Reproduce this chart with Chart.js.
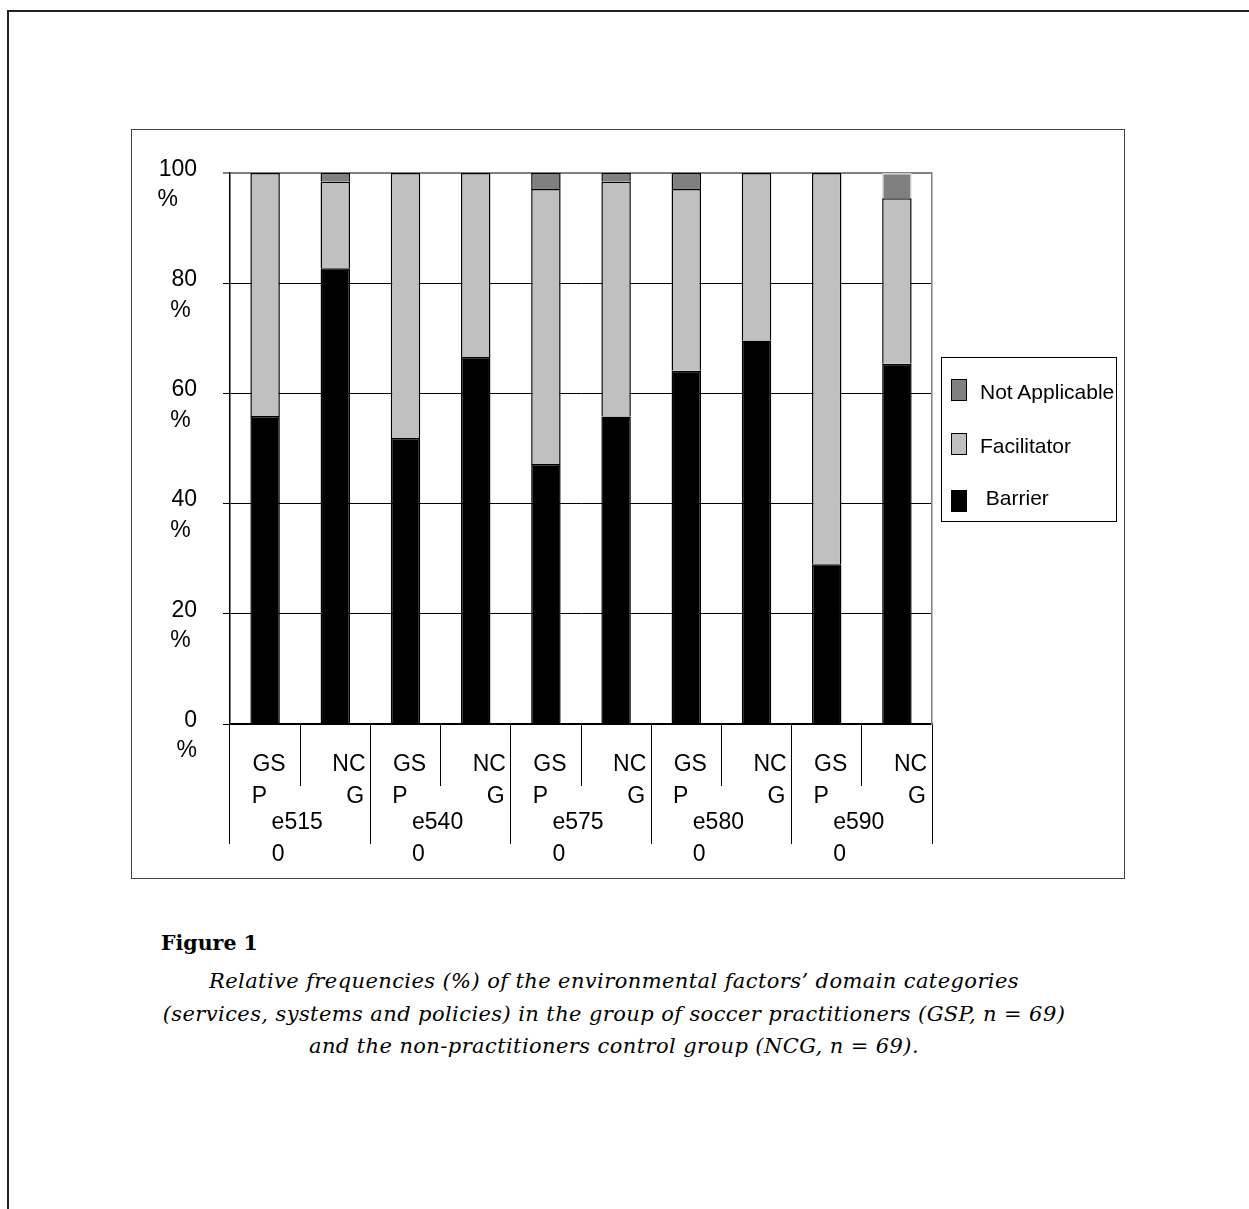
<!DOCTYPE html>
<html>
<head>
<meta charset="utf-8">
<script src="https://cdn.jsdelivr.net/npm/chart.js@4.4.1/dist/chart.umd.min.js"></script>
<style>
html,body{margin:0;padding:0;background:#fff;overflow:hidden;width:1249px;height:1209px;}
#page{position:absolute;left:7px;top:10px;width:1300px;height:1300px;border-left:2px solid #222;border-top:2px solid #222;}
#box{position:absolute;left:131px;top:129px;width:992px;height:748px;border:1px solid #444;}
#wrap{position:absolute;left:132px;top:130px;width:991px;height:747px;}
#legend{position:absolute;left:941px;top:357px;width:174px;height:163px;border:1px solid #000;font-family:'Liberation Sans',Arial,sans-serif;font-size:21px;color:#000;}
.sw{position:absolute;left:9px;width:16px;height:22px;box-sizing:border-box;border:1.5px solid #000;}
.lt{position:absolute;left:38px;white-space:pre;line-height:22px;height:22px;}
#fig{position:absolute;left:161px;top:931px;font-family:'DejaVu Serif',serif;font-weight:bold;font-size:20.5px;line-height:24px;color:#000;}
#cap{position:absolute;left:0;top:965px;width:1228px;text-align:center;font-family:'DejaVu Serif',serif;font-style:italic;font-size:21px;letter-spacing:0.4px;line-height:32.5px;color:#000;}
</style>
</head>
<body>
<div id="page"></div>
<div id="box"></div>
<div id="wrap"><canvas id="c"></canvas></div>
<div id="legend"></div>
<div id="fig">Figure 1</div>
<div id="cap">Relative frequencies (%) of the environmental factors’ domain categories<br>(services, systems and policies) in the group of soccer practitioners (GSP, n = 69)<br>and the non-practitioners control group (NCG, n = 69).</div>
<script>
// ---- data ----
const groups = ['e5150', 'e5400', 'e5750', 'e5800', 'e5900'];
const categories = ['GSP', 'NCG', 'GSP', 'NCG', 'GSP', 'NCG', 'GSP', 'NCG', 'GSP', 'NCG'];
const barrier = [55.9, 82.7, 51.9, 66.6, 47.2, 55.8, 64.1, 69.6, 29.0, 65.4];
const facilitator = [44.1, 15.7, 48.1, 33.4, 49.9, 42.6, 33.0, 30.4, 71.0, 30.0];
const notApplicable = [0, 1.6, 0, 0, 2.9, 1.6, 2.9, 0, 0, 4.6];
const seriesNames = [' Barrier', 'Facilitator', 'Not Applicable'];
const yTickValues = [0, 20, 40, 60, 80, 100];

Chart.defaults.font.family = "'Liberation Sans', Arial, sans-serif";
Chart.defaults.color = '#000';

const naBorder = notApplicable.map((v, i) => i === notApplicable.length - 1 ? '#cfcfcf' : '#000');

function catLabel(name) {
  if (name === 'GSP') return ['GS', 'P   '];
  return ['   NC', '     G'];
}
function groupLabel(code) {
  return [code.slice(0, 4), code.slice(4) + '      '];
}
function yLabel(v) {
  const s = String(v);
  const pad = s.length >= 3 ? '   ' : (s.length === 2 ? ' ' : '');
  return ['', s, '%' + pad];
}

const chart = new Chart(document.getElementById('c'), {
  type: 'bar',
  data: {
    labels: categories,
    datasets: [
      { label: seriesNames[0], data: barrier, backgroundColor: '#000000', borderColor: '#000', borderWidth: 1.5 },
      { label: seriesNames[1], data: facilitator, backgroundColor: '#c0c0c0', borderColor: '#000', borderWidth: 1.5 },
      { label: seriesNames[2], data: notApplicable, backgroundColor: '#808080', borderColor: naBorder, borderWidth: 1.5 }
    ]
  },
  options: {
    responsive: true,
    maintainAspectRatio: false,
    animation: false,
    layout: { padding: { left: 0, top: 43, right: 190, bottom: 0 } },
    plugins: { legend: { display: false }, tooltip: { enabled: false } },
    datasets: { bar: { barPercentage: 0.42, categoryPercentage: 1 } },
    scales: {
      x: {
        type: 'category', position: 'bottom', stacked: true, weight: 0, offset: true,
        grid: { display: true, offset: true, drawOnChartArea: false, drawTicks: true, tickLength: 62, color: '#000', tickColor: '#000', lineWidth: 1 },
        border: { display: true, color: '#000', width: 1.5 },
        ticks: {
          autoSkip: false, maxRotation: 0, minRotation: 0, mirror: true, padding: -56.5, labelOffset: 4,
          font: { size: 23, lineHeight: 1.37 }, color: '#000',
          callback: function (v) { return catLabel(this.getLabelForValue(v)); }
        },
        afterFit: s => { s.height = 62; s.paddingLeft = 0; s.paddingRight = 0; }
      },
      x2: {
        type: 'category', labels: groups, position: 'bottom', weight: 1, offset: true,
        grid: { display: true, offset: true, drawOnChartArea: false, drawTicks: true, tickLength: 58, color: '#000', tickColor: '#000', lineWidth: 1 },
        border: { display: false },
        ticks: {
          autoSkip: false, maxRotation: 0, minRotation: 0, padding: -37, labelOffset: -3,
          font: { size: 23, lineHeight: 32 / 23 }, color: '#000',
          callback: function (v) { return groupLabel(this.getLabelForValue(v)); }
        },
        afterFit: s => { s.height = 91; s.paddingLeft = 0; s.paddingRight = 0; }
      },
      y: {
        type: 'linear', position: 'left', stacked: true, min: 0, max: 100,
        afterBuildTicks: s => { s.ticks = yTickValues.map(v => ({ value: v })); },
        ticks: {
          padding: 26, labelOffset: -3.5, crossAlign: 'near',
          font: { size: 23, lineHeight: 30.5 / 23 }, color: '#000',
          callback: v => yLabel(v)
        },
        grid: {
          drawTicks: true, tickLength: 7,
          color: c => (c.tick && c.tick.value === 100) ? '#808080' : '#000',
          tickColor: c => (c.tick && c.tick.value === 100) ? '#808080' : '#000',
          lineWidth: c => (c.tick && c.tick.value === 100) ? 2 : 1
        },
        border: { display: true, color: '#000', width: 1.5 },
        afterFit: s => { s.width = 98; s.paddingTop = 0; s.paddingBottom = 0; }
      },
      y2: {
        type: 'linear', position: 'right', min: 0, max: 100,
        grid: { display: false, drawTicks: false },
        ticks: { display: false },
        border: { display: true, color: '#808080', width: 1.5 },
        afterFit: s => { s.width = 1; s.paddingTop = 0; s.paddingBottom = 0; }
      }
    }
  }
});

// HTML legend built from the chart's datasets (reverse order, as in the reference)
(function buildLegend() {
  const lg = document.getElementById('legend');
  const swTops = [21, 75, 132];
  const txTops = [23, 77, 129];
  const ds = chart.data.datasets.slice().reverse();
  ds.forEach((d, i) => {
    const sw = document.createElement('div');
    sw.className = 'sw';
    sw.style.top = swTops[i] + 'px';
    sw.style.background = d.backgroundColor;
    lg.appendChild(sw);
    const t = document.createElement('div');
    t.className = 'lt';
    t.style.top = txTops[i] + 'px';
    t.textContent = d.label;
    lg.appendChild(t);
  });
})();
</script>
</body>
</html>
